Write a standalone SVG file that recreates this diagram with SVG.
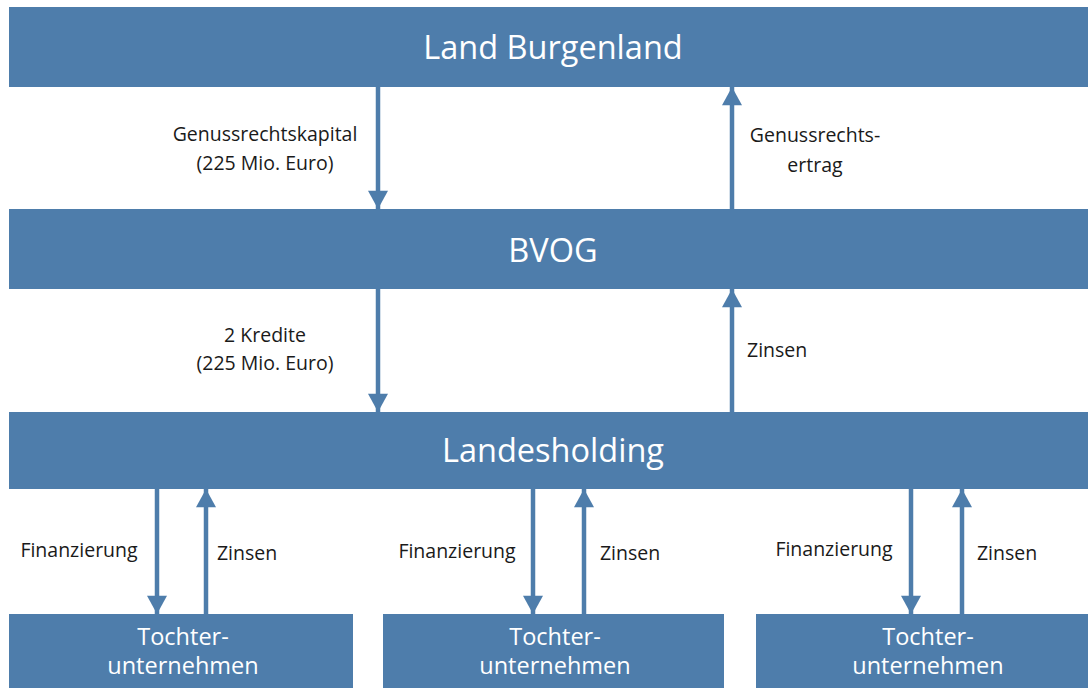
<svg xmlns="http://www.w3.org/2000/svg" width="1088" height="688" viewBox="0 0 1088 688">
<defs>
<style>
.box{fill:#4E7DAB;}
.title{fill:#fff;font-family:"Open Sans","Liberation Sans",sans-serif;font-size:32.5px;text-anchor:middle;}
.sub{fill:#fff;font-family:"Open Sans","Liberation Sans",sans-serif;font-size:23.5px;text-anchor:middle;}
.lbl{fill:#1a1a1a;font-family:"Open Sans","Liberation Sans",sans-serif;font-size:19.5px;text-anchor:middle;}
.lblL{fill:#1a1a1a;font-family:"Open Sans","Liberation Sans",sans-serif;font-size:19.5px;}
.ar{stroke:#4E7DAB;stroke-width:4.5;fill:none;marker-end:url(#ah);}
</style>
<marker id="ah" markerUnits="userSpaceOnUse" markerWidth="22" markerHeight="20" refX="20" refY="11" orient="auto" viewBox="0 0 20 22">
<path d="M0,0 L20,11 L0,22 Z" fill="#4E7DAB"/>
</marker>
</defs>
<rect width="1088" height="688" fill="#fff"/>
<g id="land-burgenland"><rect class="box" x="9" y="7" width="1079" height="80"/><text class="title" x="553" y="59">Land Burgenland</text></g>
<g id="bvog"><rect class="box" x="9" y="209" width="1079" height="80"/><text class="title" x="553" y="262">BVOG</text></g>
<g id="landesholding"><rect class="box" x="9" y="412" width="1079" height="77"/><text class="title" x="553" y="462">Landesholding</text></g>
<g id="tochter1"><rect class="box" x="9" y="614" width="344" height="74"/><text class="sub" x="183" y="645">Tochter-</text><text class="sub" x="183" y="674">unternehmen</text></g>
<g id="tochter2"><rect class="box" x="383" y="614" width="341" height="74"/><text class="sub" x="555" y="645">Tochter-</text><text class="sub" x="555" y="674">unternehmen</text></g>
<g id="tochter3"><rect class="box" x="756" y="614" width="332" height="74"/><text class="sub" x="928" y="645">Tochter-</text><text class="sub" x="928" y="674">unternehmen</text></g>
<g id="connectors">
<line class="ar" x1="378" y1="87" x2="378" y2="209"/>
<line class="ar" x1="732" y1="209" x2="732" y2="87"/>
<line class="ar" x1="378" y1="289" x2="378" y2="412"/>
<line class="ar" x1="732" y1="412" x2="732" y2="289"/>
<line class="ar" x1="157" y1="489" x2="157" y2="614"/>
<line class="ar" x1="206" y1="614" x2="206" y2="489"/>
<line class="ar" x1="533" y1="489" x2="533" y2="614"/>
<line class="ar" x1="584" y1="614" x2="584" y2="489"/>
<line class="ar" x1="911" y1="489" x2="911" y2="614"/>
<line class="ar" x1="962" y1="614" x2="962" y2="489"/>
</g>
<g id="labels">
<text class="lbl" x="265" y="141">Genussrechtskapital</text>
<text class="lbl" x="265" y="170">(225 Mio. Euro)</text>
<text class="lbl" x="815" y="142">Genussrechts-</text>
<text class="lbl" x="815" y="172">ertrag</text>
<text class="lbl" x="265" y="342">2 Kredite</text>
<text class="lbl" x="265" y="370">(225 Mio. Euro)</text>
<text class="lblL" x="747" y="357">Zinsen</text>
<text class="lbl" x="79" y="557">Finanzierung</text>
<text class="lbl" x="247" y="560">Zinsen</text>
<text class="lbl" x="457" y="558">Finanzierung</text>
<text class="lbl" x="630" y="560">Zinsen</text>
<text class="lbl" x="834" y="556">Finanzierung</text>
<text class="lbl" x="1007" y="560">Zinsen</text>
</g>
</svg>
